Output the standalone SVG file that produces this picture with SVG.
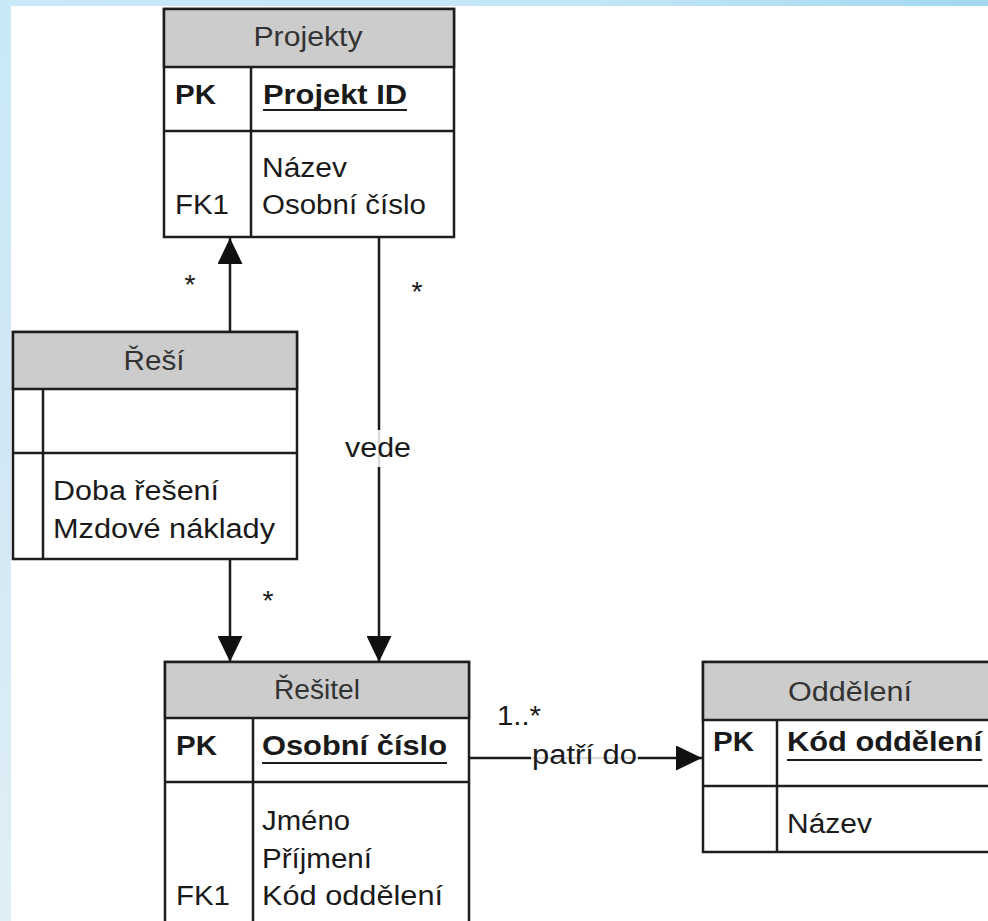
<svg xmlns="http://www.w3.org/2000/svg" width="988" height="921" viewBox="0 0 988 921">
<defs>
  <linearGradient id="bgTop" x1="0" y1="0" x2="1" y2="0">
    <stop offset="0" stop-color="#c9e9f8"/>
    <stop offset="0.6" stop-color="#c3e6f6"/>
    <stop offset="1" stop-color="#a2d8f0"/>
  </linearGradient>
  <linearGradient id="bgLeft" x1="0" y1="0" x2="0" y2="1">
    <stop offset="0" stop-color="#c9e8f7"/>
    <stop offset="0.5" stop-color="#d2e8f4"/>
    <stop offset="1" stop-color="#e0eff7"/>
  </linearGradient>
  <marker id="ah" markerUnits="userSpaceOnUse" markerWidth="26" markerHeight="25" viewBox="0 0 26 25" refX="26" refY="12.5" orient="auto">
    <path d="M0,0L26,12.5L0,25z" fill="#111"/>
  </marker>
</defs>
<style>
  .box{fill:#fff;stroke:#1e1e1e;stroke-width:2.5}
  .hdr{fill:#cccccc;stroke:#1e1e1e;stroke-width:2.5}
  .ln{stroke:#1e1e1e;stroke-width:2.5;fill:none}
  .ul{stroke:#1e1e1e;stroke-width:2}
  .conn{stroke:#1a1a1a;stroke-width:2.5;fill:none;marker-end:url(#ah)}
  .lbg{fill:#fff;fill-opacity:0.85}
  text{font-family:"Liberation Sans",Arial,sans-serif;font-size:27px;fill:#1a1a1a}
  .h{fill:#333;text-anchor:middle}
  .b{font-weight:bold}
</style>

<rect x="0" y="0" width="988" height="921" fill="url(#bgLeft)"/>
<rect x="0" y="0" width="988" height="6" fill="url(#bgTop)"/>
<rect x="11" y="6" width="977" height="915" fill="#fff"/>

<g id="connectors">
  <path class="conn" d="M230,332V238"/>
  <path class="conn" d="M379,237V662"/>
  <path class="conn" d="M230,559V662"/>
  <path class="conn" d="M469,758H702"/>
  <text x="190" y="294" text-anchor="middle" textLength="11" lengthAdjust="spacingAndGlyphs">*</text>
  <text x="417" y="301" text-anchor="middle" textLength="11" lengthAdjust="spacingAndGlyphs">*</text>
  <text x="268" y="610" text-anchor="middle" textLength="11" lengthAdjust="spacingAndGlyphs">*</text>
  <rect class="lbg" x="344" y="430" width="70" height="37"/>
  <text x="378" y="457" text-anchor="middle" textLength="66" lengthAdjust="spacingAndGlyphs">vede</text>
  <text x="497" y="725" textLength="44" lengthAdjust="spacingAndGlyphs">1..*</text>
  <rect class="lbg" x="531" y="741" width="107" height="30"/>
  <text x="532" y="764" textLength="105" lengthAdjust="spacingAndGlyphs">patří do</text>
</g>

<g id="projekty">
  <rect class="box" x="164" y="9" width="290" height="228"/>
  <rect class="hdr" x="164" y="9" width="290" height="58"/>
  <line class="ln" x1="164" y1="131" x2="454" y2="131"/>
  <line class="ln" x1="251" y1="67" x2="251" y2="237"/>
  <text class="h" x="308" y="46" textLength="109" lengthAdjust="spacingAndGlyphs">Projekty</text>
  <text class="b" x="175" y="104" textLength="41" lengthAdjust="spacingAndGlyphs">PK</text>
  <text class="b" x="263" y="104" textLength="144" lengthAdjust="spacingAndGlyphs">Projekt ID</text>
  <line class="ul" x1="263" y1="110" x2="407" y2="110"/>
  <text x="262" y="177" textLength="85" lengthAdjust="spacingAndGlyphs">Název</text>
  <text x="175" y="214" textLength="54" lengthAdjust="spacingAndGlyphs">FK1</text>
  <text x="262" y="214" textLength="164" lengthAdjust="spacingAndGlyphs">Osobní číslo</text>
</g>

<g id="resi">
  <rect class="box" x="13" y="332" width="284" height="227"/>
  <rect class="hdr" x="13" y="332" width="284" height="57"/>
  <line class="ln" x1="13" y1="453" x2="297" y2="453"/>
  <line class="ln" x1="43" y1="389" x2="43" y2="559"/>
  <text class="h" x="154" y="370" textLength="61" lengthAdjust="spacingAndGlyphs">Řeší</text>
  <text x="53" y="500" textLength="166" lengthAdjust="spacingAndGlyphs">Doba řešení</text>
  <text x="53" y="538" textLength="222" lengthAdjust="spacingAndGlyphs">Mzdové náklady</text>
</g>

<g id="resitel">
  <rect class="box" x="165" y="662" width="304" height="280"/>
  <rect class="hdr" x="165" y="662" width="304" height="56"/>
  <line class="ln" x1="165" y1="782" x2="469" y2="782"/>
  <line class="ln" x1="253" y1="718" x2="253" y2="942"/>
  <text class="h" x="317" y="699" textLength="86" lengthAdjust="spacingAndGlyphs">Řešitel</text>
  <text class="b" x="176" y="755" textLength="41" lengthAdjust="spacingAndGlyphs">PK</text>
  <text class="b" x="262" y="755" textLength="185" lengthAdjust="spacingAndGlyphs">Osobní číslo</text>
  <line class="ul" x1="262" y1="763" x2="447" y2="763"/>
  <text x="262" y="830" textLength="88" lengthAdjust="spacingAndGlyphs">Jméno</text>
  <text x="262" y="868" textLength="110" lengthAdjust="spacingAndGlyphs">Příjmení</text>
  <text x="176" y="905" textLength="54" lengthAdjust="spacingAndGlyphs">FK1</text>
  <text x="262" y="905" textLength="181" lengthAdjust="spacingAndGlyphs">Kód oddělení</text>
</g>

<g id="oddeleni">
  <rect class="box" x="703" y="662" width="300" height="190"/>
  <rect class="hdr" x="703" y="662" width="300" height="58"/>
  <line class="ln" x1="703" y1="786" x2="1003" y2="786"/>
  <line class="ln" x1="777" y1="720" x2="777" y2="852"/>
  <text class="h" x="850" y="701" textLength="124" lengthAdjust="spacingAndGlyphs">Oddělení</text>
  <text class="b" x="713" y="751" textLength="41" lengthAdjust="spacingAndGlyphs">PK</text>
  <text class="b" x="787" y="751" textLength="195" lengthAdjust="spacingAndGlyphs">Kód oddělení</text>
  <line class="ul" x1="787" y1="760" x2="982" y2="760"/>
  <text x="787" y="833" textLength="85" lengthAdjust="spacingAndGlyphs">Název</text>
</g>
</svg>
